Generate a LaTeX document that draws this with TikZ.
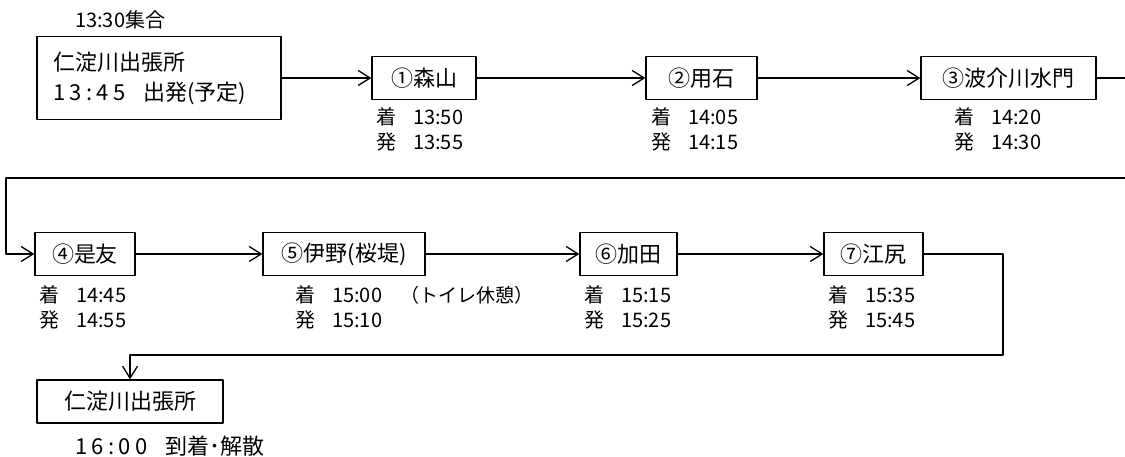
\documentclass[tikz,border=0pt]{standalone}
\usepackage{fontspec}
\setmainfont{Noto Sans CJK JP}
\newfontfamily\widedigits[LetterSpace=20]{Noto Sans CJK JP}
\usetikzlibrary{arrows.meta}
\usetikzlibrary{positioning}

\begin{document}
\begin{tikzpicture}[line cap=round,line join=round,>={Straight Barb[length=12pt,width=15pt,line width=1.3pt]},x=1pt,y=-1pt,
  stop/.style={draw,line width=1.3pt,minimum height=43pt,inner sep=0pt,font=\fontsize{22}{26}\selectfont},
  times/.style={anchor=west,inner sep=0pt,align=left,font=\fontsize{20}{25}\selectfont},
  note/.style={anchor=west,inner sep=0pt,font=\fontsize{20}{25}\selectfont},
  route/.style={line width=1.3pt}]
\useasboundingbox (0,0) rectangle (1125,457);
\fill[white] (0,0) rectangle (1125,457);
\draw (75,20) node[note] (meet) {13:30集合};
\draw (159,78) node[stop,minimum width=244pt,minimum height=83pt,text width=212pt,align=left,font=\fontsize{22}{30}\selectfont] (start) {仁淀川出張所\\{\widedigits 13:45}\hspace{18pt}出発(予定)};
\draw (424,78) node[stop,minimum width=104pt] (m1) {①森山};
\draw (701.5,78) node[stop,minimum width=111pt] (m2) {②用石};
\draw (1008.5,78) node[stop,minimum width=175pt] (m3) {③波介川水門};
\draw (376,129.5) node[times] (t1) {着\hspace{17pt}13:50\\発\hspace{17pt}13:55};
\draw (651,129.5) node[times] (t2) {着\hspace{17pt}14:05\\発\hspace{17pt}14:15};
\draw (954,129.5) node[times] (t3) {着\hspace{17pt}14:20\\発\hspace{17pt}14:30};
\draw (85,254) node[stop,minimum width=100pt] (m4) {④是友};
\draw (344,254) node[stop,minimum width=162pt] (m5) {⑤伊野(桜堤)};
\draw (628.5,254) node[stop,minimum width=97pt] (m6) {⑥加田};
\draw (873.5,254) node[stop,minimum width=99pt] (m7) {⑦江尻};
\draw (39,307.5) node[times] (t4) {着\hspace{17pt}14:45\\発\hspace{17pt}14:55};
\draw (295,307.5) node[times] (t5) {着\hspace{17pt}15:00\\発\hspace{17pt}15:10};
\draw (400,295) node[note,font=\fontsize{19}{25}\selectfont] (rest) {（トイレ休憩）};
\draw (584,307.5) node[times] (t6) {着\hspace{17pt}15:15\\発\hspace{17pt}15:25};
\draw (828,307.5) node[times] (t7) {着\hspace{17pt}15:35\\発\hspace{17pt}15:45};
\draw (130,401.5) node[stop,minimum width=186pt] (goal) {仁淀川出張所};
\draw (75,446) node[note,font=\fontsize{22}{26}\selectfont] (end) {{\widedigits 16:00}\hspace{18pt}到着･解散};
\coordinate (edgeR) at (1125,0);
\coordinate (turnR) at (1125,178);
\coordinate (turnL) at (6,178);
\coordinate (turnB) at (1003,355);
\draw[route,->] (start) -- (m1);
\draw[route,->] (m1) -- (m2);
\draw[route,->] (m2) -- (m3);
\draw[route] (m3.east) -- (m3.east -| edgeR);
\draw[route,->] (turnR) -- (turnL) |- (m4.west);
\draw[route,->] (m4) -- (m5);
\draw[route,->] (m5) -- (m6);
\draw[route,->] (m6) -- (m7);
\draw[route,->] (m7.east) -| (turnB) -| (goal.north);
\end{tikzpicture}
\end{document}
